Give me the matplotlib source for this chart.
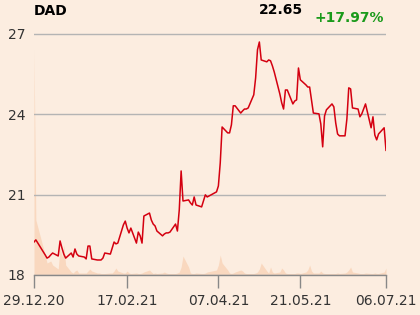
import pandas as pd
import matplotlib
matplotlib.use("Agg")
from matplotlib import pyplot as plt
import matplotlib.dates as mdates

TICKER = "DAD"
LAST_PRICE = "22.65"
CHANGE = "+17.97%"

# closing prices, one per trading day
PRICES = [
    19.23, 19.31, 18.75, 18.63, 18.67, 18.75, 18.82, 18.71, 19.27, 19.01,
    18.78, 18.63, 18.82, 18.67, 18.97, 18.78, 18.71, 18.67, 18.60, 19.08,
    19.08, 18.60, 18.56, 18.56, 18.56, 18.63, 18.82, 18.78, 19.01, 19.23,
    19.16, 19.19, 19.87, 20.01, 19.75, 19.57, 19.75, 19.19, 19.60, 19.46,
    19.19, 20.20, 20.31, 20.05, 19.90, 19.83, 19.64, 19.46, 19.53, 19.57,
    19.57, 19.60, 19.90, 19.64, 20.43, 21.88, 20.76, 20.80, 20.69, 20.61,
    20.91, 20.61, 20.54, 20.76, 20.99, 20.91, 21.10, 21.32, 22.18, 23.52,
    23.30, 23.30, 23.60, 24.31, 24.31, 24.04, 24.12, 24.19, 24.19, 24.23,
    24.72, 25.35, 26.40, 26.69, 26.02, 25.95, 26.02, 25.99, 25.80, 25.57,
    24.75, 24.42, 24.19, 24.90, 24.90, 24.38, 24.49, 24.53, 25.72, 25.28,
    25.09, 25.01, 25.01, 24.53, 24.04, 24.01, 23.63, 22.78, 23.93, 24.16,
    24.38, 24.27, 23.67, 23.26, 23.19, 23.19, 23.82, 24.98, 24.94, 24.23,
    24.19, 23.90, 24.01, 24.19, 24.38, 23.49, 23.90, 23.22, 23.04, 23.26,
    23.49, 22.65,
]

# traded volume (thousands of shares)
VOLUME = [
    225, 55, 20, 12, 13, 14, 10, 6, 28, 18,
    30, 10, 3, 2, 4, 5, 2, 2, 2, 4,
    6, 4, 2, 2, 1.5, 1.5, 1.5, 2, 2, 4,
    7, 4, 2, 2, 4, 2, 1.5, 2, 1.5, 1.5,
    2, 3, 5, 3, 1.5, 2, 1.5, 2, 3, 2,
    1.5, 1.5, 1.5, 2, 3, 8, 19, 8, 2, 1.5,
    1.5, 2, 1.5, 1.5, 2, 3, 5, 10, 20, 12,
    5, 2, 1.5, 2, 3, 5, 4, 2, 1.5, 1.5,
    1.5, 2, 3, 6, 12, 4, 2, 8, 3, 2,
    3, 7, 5, 2, 1.5, 1.5, 1.5, 2, 2, 1.5,
    3, 5, 10, 4, 2, 2, 4, 2, 1.5, 1.5,
    1.5, 1.5, 1.5, 2, 1.5, 2, 3, 5, 8, 3,
    2, 1.5, 1.5, 1.5, 2, 1.5, 1.5, 2, 1.5, 1.5,
    3, 7,
]

HOLIDAYS = ["2020-12-31", "2021-01-01", "2021-04-02", "2021-04-05"]
START, END = "2020-12-29", "2021-07-06"
TICK_DATES = ["2020-12-29", "2021-02-17", "2021-04-07", "2021-05-21", "2021-07-06"]
Y_TICKS = [18, 21, 24, 27]

dates = pd.bdate_range(START, END, freq="C", holidays=HOLIDAYS)
if len(dates) != len(PRICES) or len(dates) != len(VOLUME):
    raise ValueError(f"dates {len(dates)} prices {len(PRICES)} volume {len(VOLUME)}")

BG = "#fcede0"

fig = plt.figure(figsize=(4.2, 3.15), dpi=100, facecolor=BG)
ax = fig.add_axes([34 / 420, 1 - 275 / 315, 352 / 420, 255 / 315])
ax2 = ax.twinx()

# volume behind the price line
ax2.fill_between(dates, VOLUME, 0, color="#f9d8bf", linewidth=0)
ax2.set_ylim(0, max(VOLUME) * 255 / 225)
ax2.axis("off")

ax.set_zorder(ax2.get_zorder() + 1)
ax.patch.set_visible(False)
ax2.patch.set_facecolor(BG)

ax.plot(dates, PRICES, color="#d40010", linewidth=1.1)
ax.set_ylim(18, 27.51)
ax.set_xlim(pd.Timestamp(START), pd.Timestamp(END))

ax.set_yticks(Y_TICKS)
ax.set_xticks(pd.to_datetime(TICK_DATES))
ax.xaxis.set_major_formatter(mdates.DateFormatter("%d.%m.%y"))
ax.grid(axis="y", color="#b4b4b4", linewidth=1)
ax.tick_params(axis="y", length=0, pad=6, labelsize=10, labelcolor="#333333")
ax.tick_params(axis="x", length=9.5, width=1, color="#888888", pad=4,
               labelsize=10, labelcolor="#333333")
for side in ["top", "right", "left"]:
    ax.spines[side].set_visible(False)
ax.spines["bottom"].set_color("#888888")
ax.spines["bottom"].set_linewidth(1)

fig.text(34 / 420, 1 - 15 / 315, TICKER, fontsize=10, fontweight="bold", color="black")
fig.text(281 / 420, 1 - 14 / 315, LAST_PRICE, fontsize=10, fontweight="bold",
         color="black", ha="center")
fig.text(384 / 420, 1 - 22 / 315, CHANGE, fontsize=10, fontweight="bold",
         color="#1a9a1a", ha="right")

fig.savefig("out.png", dpi=100, facecolor=BG)
